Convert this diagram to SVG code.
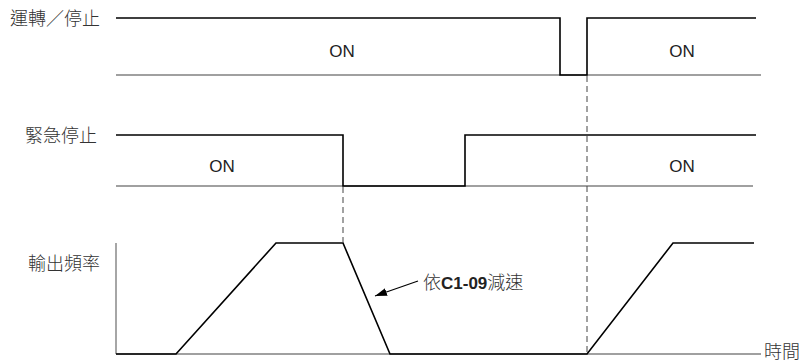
<svg xmlns="http://www.w3.org/2000/svg" width="803" height="364" viewBox="0 0 803 364">
<style>
text{font-family:"Liberation Sans","Noto Sans CJK TC",sans-serif;font-size:17px;fill:#222}
.lbl{font-family:"Noto Sans CJK TC","Liberation Sans",sans-serif;font-size:18px;font-weight:300;fill:#333}
.on{font-size:17px;text-anchor:middle}
.sig{fill:none;stroke:#000;stroke-width:1.6}
.base{fill:none;stroke:#808080;stroke-width:1.4}
.dash{fill:none;stroke:#444;stroke-width:1;stroke-dasharray:6,4}
</style>
<defs>
<marker id="ah" markerWidth="12" markerHeight="8" refX="12" refY="4" orient="auto" markerUnits="userSpaceOnUse">
<path d="M0,0 L12,4 L0,8 Z" fill="#000"/>
</marker>
</defs>
<g id="run-stop">
<text class="lbl" x="10" y="25">運轉／停止</text>
<line class="base" x1="116" y1="75" x2="761" y2="75"/>
<polyline class="sig" points="116,18 560,18 560,75 587,75 587,18 756,18"/>
<text class="on" x="342" y="57">ON</text>
<text class="on" x="682" y="57">ON</text>
</g>
<g id="emergency-stop">
<text class="lbl" x="25" y="142">緊急停止</text>
<line class="base" x1="116" y1="186" x2="753" y2="186"/>
<polyline class="sig" points="116,135 343,135 343,186 465,186 465,135 756,135"/>
<text class="on" x="222" y="172">ON</text>
<text class="on" x="682" y="172">ON</text>
</g>
<g id="output-frequency">
<text class="lbl" x="28" y="270">輸出頻率</text>
<line class="base" x1="116" y1="243" x2="116" y2="354"/>
<line class="base" x1="116" y1="354" x2="761" y2="354"/>
<polyline class="sig" points="116,354 176,354 276,243 343,243 390,354 587,354 673,243 754,243"/>
<text class="lbl" x="800" y="358" text-anchor="end" font-size="17">時間</text>
</g>
<g id="connectors">
<line class="dash" x1="343" y1="187" x2="343" y2="243"/>
<line class="dash" x1="587" y1="76" x2="587" y2="354"/>
<line x1="418" y1="281" x2="375" y2="296" stroke="#000" stroke-width="1.2" marker-end="url(#ah)"/>
</g>
<g id="annotation">
<text x="423" y="289"><tspan class="lbl">依</tspan><tspan font-weight="bold">C1-09</tspan><tspan class="lbl">減速</tspan></text>
</g>
</svg>
